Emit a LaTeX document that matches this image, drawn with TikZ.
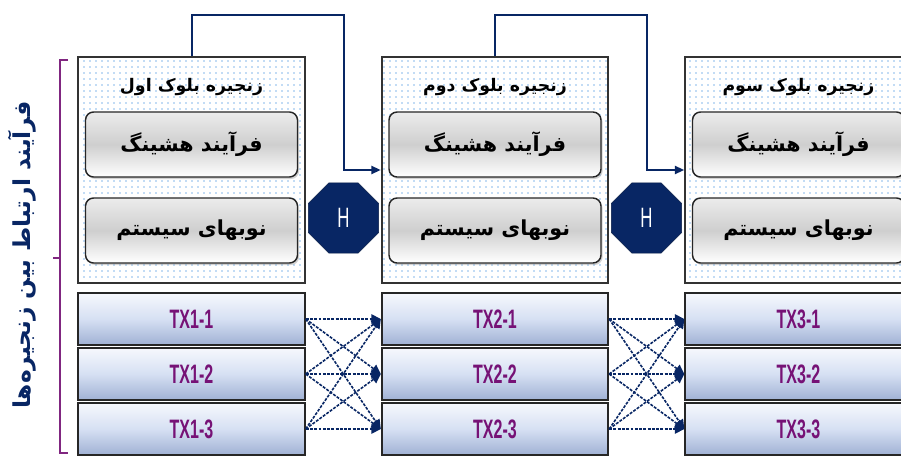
\documentclass[tikz,border=0pt]{standalone}
\usepackage{fontspec}
\setmainfont{DejaVu Sans}
\newfontfamily\arabicfont[Script=Arabic]{DejaVu Sans}
\newfontfamily\txfont[FakeStretch=0.6]{Liberation Sans}
\TeXXeTstate=1
\usetikzlibrary{shapes.geometric,arrows.meta,patterns.meta,shadows}

\definecolor{chainblue}{RGB}{8,38,100}
\definecolor{txpurple}{RGB}{118,18,118}
\definecolor{txtop}{RGB}{246,248,253}
\definecolor{txmid}{RGB}{214,224,243}
\definecolor{txbottom}{RGB}{160,177,212}
\definecolor{dotblue}{RGB}{135,185,235}
\definecolor{bracketpurple}{RGB}{128,38,128}

\tikzset{chain/.style = {draw=black!80, line width=1.4pt, preaction={fill=white},
                         pattern={Dots[radius=0.7pt,distance=4.5pt]}, pattern color=dotblue,
                         minimum width=170pt, minimum height=169.5pt},
         chaintitle/.style = {font=\arabicfont\bfseries\fontsize{13}{15}\selectfont, inner sep=1pt},
         stepbox/.style = {draw=black!85, line width=1.1pt, rounded corners=6pt,
                           top color=gray!15, bottom color=white, middle color=gray!38,
                           drop shadow={opacity=0.35, shadow xshift=1.2pt, shadow yshift=-1.5pt},
                           minimum width=159pt, minimum height=48.75pt,
                           font=\arabicfont\bfseries\fontsize{15.5}{17}\selectfont},
         txbox/.style = {draw=black!85, line width=1.3pt,
                         top color=txtop, bottom color=txbottom, middle color=txmid,
                         minimum width=170pt, minimum height=39pt,
                         text=txpurple, font=\txfont\bfseries\fontsize{20}{20}\selectfont},
         hashnode/.style = {regular polygon, regular polygon sides=8, minimum size=57pt,
                            inner sep=0pt, fill=chainblue, draw=chainblue!70!black,
                            text=white, font=\txfont\fontsize{21}{21}\selectfont},
         link/.style = {chainblue, line width=1.5pt, -{Triangle[length=7pt,width=6pt]}},
         txlink/.style = {chainblue, line width=1.2pt, dash pattern=on 2.2pt off 1pt,
                          -{Triangle[length=7pt,width=7pt]}},
         bracket/.style = {draw=bracketpurple, line width=1pt},
         grouplabel/.style = {rotate=90, text=chainblue,
                              font=\arabicfont\bfseries\fontsize{17.5}{20}\selectfont}
        }

\begin{document}
\begin{tikzpicture}[x=0.75pt, y=-0.75pt]
  \useasboundingbox (0,0) rectangle (901,457);
  \clip (0,0) rectangle (901,457);

  \foreach \c/\x/\t in {1/191.5/اول, 2/495/دوم, 3/798.5/سوم}{
    \node[chain] (blk\c) at (\x,170) {};
    \node[chaintitle] (title\c) at (\x,87) {\beginR زنجیره بلوک \t\endR};
    \node[stepbox] (hashing\c) at (\x,144.5) {\beginR فرآیند هشینگ\endR};
    \node[stepbox] (nodes\c) at (\x,230.5) {\beginR نوبهای سیستم\endR};
    \foreach \r/\y in {1/319, 2/374, 3/429}
      \node[txbox] (tx\c\r) at (\x,\y) {TX\c-\r};
  }

  \node[hashnode] (hash1) at (343.5,218) {H};
  \node[hashnode] (hash2) at (646.5,218) {H};

  \coordinate (rise1) at (343.5,15);
  \coordinate (rise2) at (646.5,15);
  \draw[link] (blk1.north) |- (rise1) |- (blk2.west);
  \draw[link] (blk2.north) |- (rise2) |- (blk3.west);

  \foreach \a in {1,2,3}
    \foreach \b in {1,2,3}{
      \draw[txlink] (tx1\a.east) -- (tx2\b.west);
      \draw[txlink] (tx2\a.east) -- (tx3\b.west);
    }

  \coordinate (brtop) at (68,60);
  \coordinate (brmid) at (60,258);
  \coordinate (brtip) at (53,258);
  \coordinate (brbot) at (68,453);
  \draw[bracket] (brtop) -| (brmid) |- (brbot);
  \draw[bracket] (brmid) -- (brtip);

  \node[grouplabel] (grouptitle) at (22,255) {\arabicfont\beginR فرآیند ارتباط بین زنجیره‌ها\endR};
\end{tikzpicture}
\end{document}
